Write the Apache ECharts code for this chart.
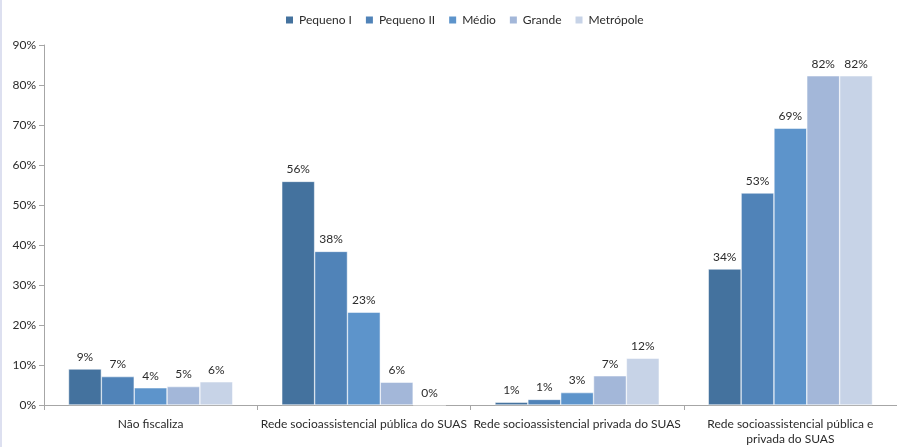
<!DOCTYPE html>
<html>
<head>
<meta charset="utf-8">
<script src="https://cdn.jsdelivr.net/npm/echarts@6/dist/echarts.min.js"></script>
<style>
html,body{margin:0;padding:0;background:#fff;}
#c{width:897px;height:447px;border-left:2px solid #dde0f0;box-sizing:border-box;}
</style>
</head>
<body>
<div id="c"></div>
<script>
const categories = ["Não fiscaliza", "Rede socioassistencial pública do SUAS", "Rede socioassistencial privada do SUAS", "Rede socioassistencial pública e\nprivada do SUAS"];
const seriesNames = ["Pequeno I", "Pequeno II", "Médio", "Grande", "Metrópole"];
const pequenoI = [9.0, 55.9, 0.7, 34.0];
const pequenoII = [7.1, 38.4, 1.4, 53.0];
const medio = [4.3, 23.2, 3.1, 69.2];
const grande = [4.6, 5.7, 7.3, 82.3];
const metropole = [5.8, 0, 11.7, 82.3];
const yTicks = [0, 10, 20, 30, 40, 50, 60, 70, 80, 90];
const colors = ["#44729e", "#5083b8", "#5d94cb", "#a3b7d9", "#c7d3e7"];

const values = [pequenoI, pequenoII, medio, grande, metropole];
const font = "Lato, 'Open Sans', sans-serif";
const chart = echarts.init(document.getElementById('c'));
chart.setOption({
  animation: false,
  color: colors,
  textStyle: {fontFamily: font},
  legend: {
    top: 9, left: 277,
    itemWidth: 9, itemHeight: 9, itemGap: 12,
    icon: 'rect',
    textStyle: {fontSize: 12, color: '#2b2b2b', fontFamily: font},
    data: seriesNames
  },
  grid: {left: 42, right: -7, top: 45, bottom: 37, containLabel: false},
  xAxis: {
    type: 'category', data: categories,
    axisLine: {lineStyle: {color: '#a6a6a6'}},
    axisTick: {show: true, alignWithLabel: false, length: 5, lineStyle: {color: '#a6a6a6'}},
    axisLabel: {interval: 0, hideOverlap: false, color: '#2b2b2b', fontSize: 12, fontFamily: font, margin: 12, lineHeight: 15}
  },
  yAxis: {
    type: 'value', min: yTicks[0], max: yTicks[yTicks.length - 1], interval: 10,
    axisLine: {show: true, lineStyle: {color: '#a6a6a6'}},
    axisTick: {show: true, length: 5, lineStyle: {color: '#a6a6a6'}},
    splitLine: {show: false},
    axisLabel: {formatter: v => v + '%', color: '#2b2b2b', fontSize: 12, fontFamily: font, margin: 8}
  },
  series: seriesNames.map((n, i) => ({
    name: n, type: 'bar', data: values[i],
    barGap: '0%', barCategoryGap: '23%',
    itemStyle: {color: colors[i], borderColor: '#ffffff', borderWidth: 0.5},
    label: {show: true, position: 'top', distance: 6, formatter: p => Math.round(p.value) + '%', color: '#2b2b2b', fontSize: 12, fontFamily: font}
  }))
});
</script>
</body>
</html>
